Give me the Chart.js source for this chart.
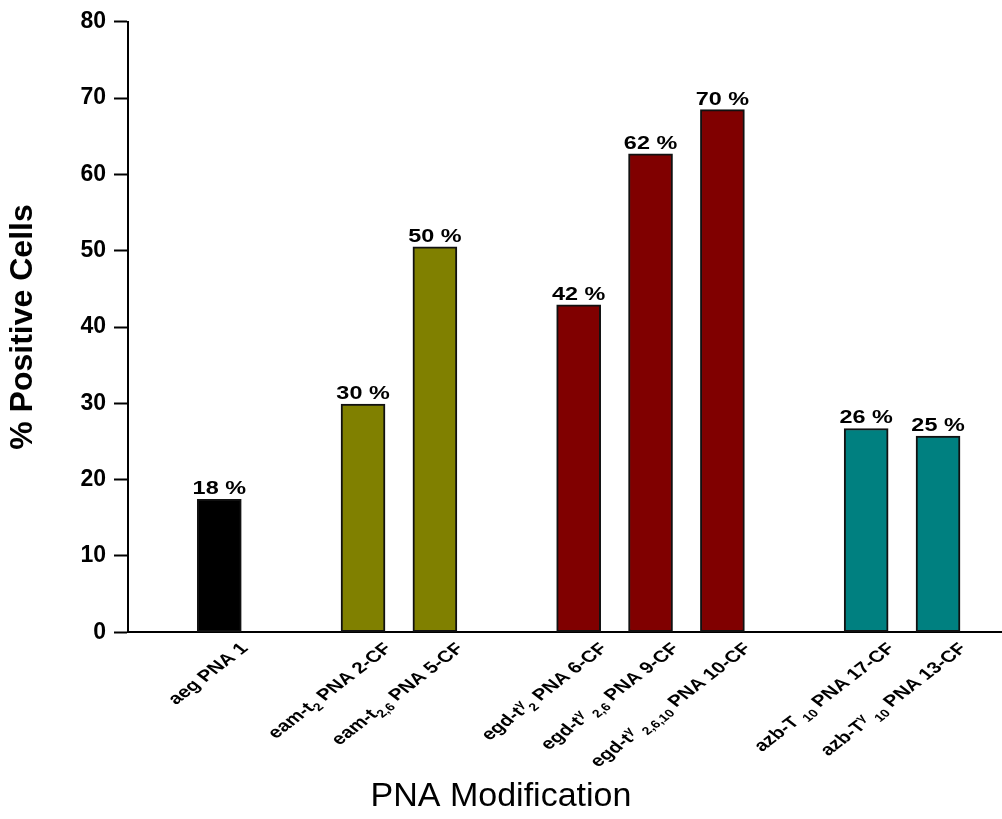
<!DOCTYPE html>
<html>
<head>
<meta charset="utf-8">
<script src="https://cdn.jsdelivr.net/npm/chart.js@4.4.0/dist/chart.umd.min.js"></script>
<style>
  html, body { margin: 0; padding: 0; background: #fff; }
</style>
</head>
<body>
<canvas id="chart" width="1002" height="819"></canvas>
<script>
/**************** DATA ****************/
// labels use _{..} for subscript and ^{..} for superscript
const groups = [
  ["aeg PNA 1"],
  ["eam-t_{2} PNA 2-CF", "eam-t_{2,6} PNA 5-CF"],
  ["egd-t^{γ}_{2} PNA 6-CF", "egd-t^{γ} _{2,6} PNA 9-CF", "egd-t^{γ} _{2,6,10} PNA 10-CF"],
  ["azb-T _{10} PNA 17-CF", "azb-T^{γ} _{10} PNA 13-CF"]
];
const values = [17.4, 29.9, 50.5, 42.9, 62.7, 68.5, 26.7, 25.7];
const valueLabels = ["18 %", "30 %", "50 %", "42 %", "62 %", "70 %", "26 %", "25 %"];
const groupColors = ["#000000", "#808000", "#800000", "#008080"];
const yTicks = [0, 10, 20, 30, 40, 50, 60, 70, 80];

/**************** HELPERS ****************/
const FONT = "'Liberation Sans', Arial, sans-serif";
const STRETCH = 1.3; // the original figure is wider than tall

// slot positions: one empty slot between groups
const categories = [];
const positions = [];
const colors = [];
let slot = 0;
groups.forEach((g, gi) => {
  g.forEach(name => {
    categories.push(name);
    positions.push(slot);
    colors.push(groupColors[gi]);
    slot++;
  });
  slot++;
});

function parseLabel(str) {
  const parts = [];
  str.split(/(\^\{[^}]*\}|_\{[^}]*\})/).forEach(p => {
    if (!p) return;
    if (p[0] === "^") parts.push({ t: p.slice(2, -1), mode: "sup" });
    else if (p[0] === "_") parts.push({ t: p.slice(2, -1), mode: "sub" });
    else parts.push({ t: p, mode: "main" });
  });
  return parts;
}

function drawRichLabel(ctx, str, x, y) {
  const parts = parseLabel(str);
  const mainFont = "bold 16px " + FONT;
  const smallFont = "bold 11px " + FONT;
  let total = 0;
  parts.forEach(p => {
    ctx.font = p.mode === "main" ? mainFont : smallFont;
    p.w = ctx.measureText(p.t).width;
    total += p.w;
  });
  ctx.save();
  ctx.translate(x, y);
  ctx.scale(STRETCH, 1);
  ctx.rotate(-Math.PI / 4);
  ctx.fillStyle = "#000";
  ctx.textAlign = "left";
  ctx.textBaseline = "alphabetic";
  let cx = -total;
  const cap = 11.5;
  parts.forEach(p => {
    ctx.font = p.mode === "main" ? mainFont : smallFont;
    let dy = cap;
    if (p.mode === "sub") dy = cap + 4;
    if (p.mode === "sup") dy = cap - 6;
    ctx.fillText(p.t, cx, dy);
    cx += p.w;
  });
  ctx.restore();
}

/**************** LABEL PLUGIN ****************/
const labelPlugin = {
  id: "labelPlugin",
  afterDatasetsDraw(chart) {
    const ctx = chart.ctx;
    const meta = chart.getDatasetMeta(0);
    const yScale = chart.scales.y;
    meta.data.forEach((bar, i) => {
      ctx.save();
      ctx.translate(bar.x, bar.y - 5);
      ctx.scale(STRETCH, 1);
      ctx.font = "bold 18px " + FONT;
      ctx.fillStyle = "#000";
      ctx.textAlign = "center";
      ctx.textBaseline = "alphabetic";
      ctx.fillText(valueLabels[i], 0, 0);
      ctx.restore();

      drawRichLabel(ctx, categories[i], bar.x + 19, yScale.bottom + 9);
    });
  }
};

/**************** CHART ****************/
new Chart(document.getElementById("chart"), {
  type: "bar",
  data: {
    datasets: [{
      data: values.map((v, i) => ({ x: positions[i], y: v })),
      backgroundColor: colors,
      borderColor: "#111",
      borderWidth: 2,
      borderSkipped: false,
      barThickness: 44
    }]
  },
  options: {
    responsive: false,
    animation: false,
    devicePixelRatio: 1,
    layout: { padding: { top: 21, right: 0, bottom: 2, left: 0 } },
    plugins: {
      legend: { display: false },
      tooltip: { enabled: false },
      title: {
        display: true,
        position: "bottom",
        text: "PNA Modification",
        color: "#000",
        font: { family: FONT, size: 34, weight: "normal" },
        padding: { top: 0, bottom: 0 }
      }
    },
    scales: {
      x: {
        type: "linear",
        offset: false,
        min: -1.27,
        max: 10.89,
        grid: { display: false },
        ticks: { display: false },
        border: { display: true, color: "#000", width: 2 },
        afterFit(scale) { scale.height = 144; }
      },
      y: {
        min: 0,
        max: 80,
        afterBuildTicks(scale) { scale.ticks = yTicks.map(v => ({ value: v })); },
        ticks: {
          color: "#000",
          padding: 8,
          font: { family: FONT, size: 23, weight: "bold" }
        },
        grid: {
          drawOnChartArea: false,
          drawTicks: true,
          tickLength: 14,
          tickColor: "#000",
          tickWidth: 2
        },
        border: { display: true, color: "#000", width: 2 },
        title: {
          display: true,
          text: "% Positive Cells",
          color: "#000",
          font: { family: FONT, size: 32, weight: "bold" },
          padding: { top: 4, bottom: 0 }
        },
        afterFit(scale) { scale.width = 128; }
      }
    }
  },
  plugins: [labelPlugin]
});
</script>
</body>
</html>
